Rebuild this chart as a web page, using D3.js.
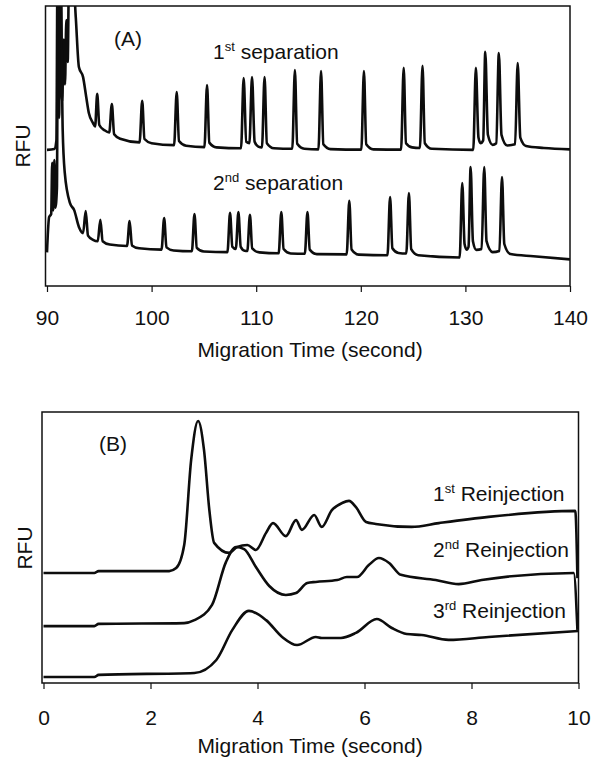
<!DOCTYPE html>
<html>
<head>
<meta charset="utf-8">
<script src="https://cdn.jsdelivr.net/npm/d3@7"></script>
<style>
  body { margin: 0; background: #fff; }
  text { font-family: "Liberation Sans", Arial, Helvetica, sans-serif; fill: #111; }
</style>
</head>
<body>
<div id="chart"></div>
<script>
// Marcas de los ejes
var ticksA = [90, 100, 110, 120, 130, 140];
var ticksB = [0, 2, 4, 6, 8, 10];

// (A) primera separacion: [tiempo (s), RFU]
var sepPrimera = [
  [90.0, 48.6], [90.7, 48.9], [90.9, 52], [91.0, 110], [91.15, 60], [91.3, 110], [91.45, 66],
  [91.6, 88], [91.72, 72], [91.85, 95], [91.98, 80], [92.1, 110], [92.5, 110], [92.75, 96],
  [93.05, 78.2], [93.45, 74.6], [93.75, 67.5], [94.0, 61.8], [94.4, 58.2], [94.6, 57.0],
  [94.8, 68.6], [95.0, 57.5], [95.5, 55.6], [95.95, 54.8],
  [96.2, 65.0], [96.42, 54.2], [97.0, 52.6], [98.85, 51.3],
  [99.1, 66.1], [99.32, 52.5], [100.0, 51.0], [102.15, 50.3],
  [102.4, 69.3], [102.62, 51.8], [103.3, 50.1], [105.05, 49.6],
  [105.3, 71.8], [105.52, 51.2], [106.2, 49.5], [108.55, 49.2],
  [108.8, 74.3], [109.05, 51.5], [109.35, 51.0],
  [109.6, 74.6], [109.85, 51.5], [110.2, 49.8], [110.55, 49.5],
  [110.8, 74.6], [111.02, 51.0], [111.7, 49.2], [113.45, 49.0],
  [113.7, 77.1], [113.92, 50.8], [114.6, 49.0], [115.95, 48.8],
  [116.2, 76.8], [116.42, 50.6], [117.1, 48.9], [120.05, 48.7],
  [120.3, 76.8], [120.52, 50.6], [121.2, 48.8], [123.85, 48.7],
  [124.1, 77.9], [124.32, 51.0], [124.9, 49.5], [125.65, 49.3],
  [125.9, 78.6], [126.12, 51.0], [126.8, 49.0], [130.75, 48.6],
  [131.0, 77.9], [131.25, 53.0], [131.45, 51.0], [131.7, 52.0],
  [131.9, 83.6], [132.15, 54.0], [132.6, 50.4], [132.95, 51.0],
  [133.2, 83.2], [133.45, 54.0], [134.0, 50.2], [134.75, 50.6],
  [135.0, 79.6], [135.25, 53.0], [135.8, 50.0], [137.5, 49.3], [140.0, 48.8]
];

// (A) segunda separacion
var sepSegunda = [
  [90.0, 12], [90.1, 20], [90.2, 24.6], [90.4, 25.7], [90.5, 44], [90.6, 27], [90.7, 45],
  [90.8, 28], [90.95, 35], [91.05, 110], [91.3, 110], [91.5, 55.7], [91.7, 40.4],
  [92.2, 29.6], [92.6, 27.1], [93.05, 21.1], [93.45, 18.9],
  [93.7, 26.8], [93.92, 18.0], [94.4, 16.5], [94.85, 16.0],
  [95.1, 23.6], [95.32, 16.0], [96.0, 14.8], [97.65, 14.3],
  [97.9, 23.2], [98.12, 14.5], [98.8, 13.5], [100.95, 13.0],
  [101.2, 24.3], [101.42, 13.8], [102.1, 12.7], [103.85, 12.4],
  [104.1, 25.7], [104.32, 13.6], [105.0, 12.3], [107.25, 12.1],
  [107.5, 26.1], [107.72, 14.0], [108.05, 13.2],
  [108.3, 26.4], [108.52, 14.0], [108.9, 12.6], [109.15, 12.5],
  [109.4, 25.4], [109.62, 13.4], [110.3, 12.0], [112.15, 11.7],
  [112.4, 26.4], [112.62, 13.2], [113.3, 11.6], [114.65, 11.5],
  [114.9, 26.4], [115.12, 13.0], [115.8, 11.4], [118.65, 11.3],
  [118.9, 30.4], [119.12, 13.0], [119.8, 11.2], [122.55, 11.0],
  [122.8, 31.8], [123.02, 13.5], [123.6, 11.8], [124.35, 11.6],
  [124.6, 33.2], [124.82, 13.2], [125.5, 11.0], [129.45, 10.2],
  [129.7, 36.8], [129.92, 15.0], [130.12, 13.0], [130.3, 14.0],
  [130.5, 42.5], [130.72, 16.0], [131.05, 12.9], [131.55, 13.2],
  [131.8, 42.5], [132.02, 16.0], [132.6, 12.1], [133.25, 12.5],
  [133.5, 38.9], [133.72, 15.0], [134.3, 11.4], [136.5, 10.6], [140.0, 9.5]
];

// (B) reinyecciones
var reiny1 = [
  [0, 40.6], [0.95, 40.6], [1.03, 41.3], [2.35, 41.3], [2.48, 42.4], [2.63, 50.9],
  [2.76, 82.3], [2.89, 96.7], [3.0, 86], [3.1, 63.8], [3.19, 51.7], [3.47, 48],
  [3.62, 50.2], [3.81, 50.9], [3.97, 49.1], [4.16, 55.4], [4.29, 59], [4.53, 54.2],
  [4.72, 60.1], [4.83, 56.5], [5.06, 62], [5.2, 57.6], [5.39, 63.8], [5.58, 66.4],
  [5.71, 67.2], [5.84, 64.9], [6.03, 59.4], [6.21, 58.7], [6.88, 57.6], [7.39, 59],
  [8.32, 61.3], [9.94, 63.5], [9.98, 38.7]
];
var reiny2 = [
  [0, 21], [0.95, 21], [1.03, 21.8], [2.63, 22.1], [2.82, 23.2], [3.15, 28.8],
  [3.41, 44.6], [3.6, 50.2], [3.75, 49.4], [3.97, 42.8], [4.22, 35.8], [4.53, 32.5],
  [4.72, 33.2], [4.93, 36.9], [5.09, 37.3], [5.49, 38], [5.67, 39.1], [5.86, 39.1],
  [6.08, 43.5], [6.27, 46.1], [6.46, 44.3], [6.68, 39.9], [7.33, 38], [7.76, 36.5],
  [8.19, 38], [9.91, 40.6], [9.98, 19.6]
];
var reiny3 = [
  [0, 2.2], [0.95, 2.2], [1.03, 3], [2.82, 3.7], [3.23, 8.5], [3.53, 19.6], [3.84, 26.6],
  [4.16, 23.2], [4.46, 17], [4.74, 14], [5.09, 17], [5.2, 16.6], [5.56, 16.6], [5.84, 18.5],
  [6.23, 23.6], [6.51, 20.3], [6.79, 18.1], [7.07, 17.7], [7.57, 15.9], [8.32, 17], [10, 19.2]
];

(function(){

  var fuente = 21;

  var svg = d3.select("#chart")
              .append("svg")
              .attr("width", 593)
              .attr("height", 763);

  //Texto con superindice (1st, 2nd ...)
  function etiqueta(g, x, y, num, sup, resto){
    var t = g.append("text")
             .attr("x", x)
             .attr("y", y)
             .attr("font-size", fuente);
    t.append("tspan").text(num);
    t.append("tspan").text(sup).attr("font-size", 13).attr("dy", -8);
    t.append("tspan").text(resto).attr("dy", 8);
  }

  function panel(cfg){
    var g = svg.append("g");

    var x = d3.scaleLinear().domain(cfg.dominio).range(cfg.rx);
    var y = d3.scaleLinear().domain([0, 100]).range(cfg.ry);

    g.append("clipPath")
     .attr("id", cfg.id)
     .append("rect")
     .attr("x", cfg.rx[0] - 2)
     .attr("y", cfg.ry[1])
     .attr("width", cfg.rx[1] - cfg.rx[0] + 2)
     .attr("height", cfg.ry[0] - cfg.ry[1]);

    var linea = d3.line()
                  .x(function(d){ return x(d[0]); })
                  .y(function(d){ return y(d[1]); })
                  .curve(d3.curveMonotoneX);

    g.append("g")
     .attr("clip-path", "url(#" + cfg.id + ")")
     .selectAll("path")
     .data(cfg.series)
     .enter()
     .append("path")
     .attr("d", linea)
     .attr("fill", "none")
     .attr("stroke", "#0d0d0d")
     .attr("stroke-width", 2.6)
     .attr("stroke-linejoin", "round");

    //Marco
    g.append("rect")
     .attr("x", cfg.rx[0] - 1.5)
     .attr("y", cfg.ry[1])
     .attr("width", cfg.rx[1] - cfg.rx[0] + 1.5)
     .attr("height", cfg.ry[0] - cfg.ry[1])
     .attr("fill", "none")
     .attr("stroke", "#111")
     .attr("stroke-width", 1.5);

    var eje = g.append("g")
               .attr("transform", "translate(0," + cfg.ry[0] + ")")
               .call(d3.axisBottom(x)
                       .tickValues(cfg.ticks)
                       .tickSize(6)
                       .tickPadding(cfg.pad));
    eje.select(".domain").remove();
    eje.selectAll("line").attr("stroke", "#111").attr("stroke-width", 1.2);
    eje.selectAll("text")
       .attr("font-size", fuente)
       .attr("font-family", "Liberation Sans, Arial, sans-serif")
       .attr("fill", "#111");

    g.append("text")
     .text("Migration Time (second)")
     .attr("x", 310)
     .attr("y", cfg.tituloY)
     .attr("text-anchor", "middle")
     .attr("font-size", fuente);

    g.append("text")
     .text("RFU")
     .attr("transform", "translate(" + cfg.rfu[0] + "," + cfg.rfu[1] + ") rotate(-90)")
     .attr("text-anchor", "middle")
     .attr("font-size", fuente);

    return g;
  }

  var gA = panel({
    id: "clipA", dominio: [90, 140], rx: [47, 570], ry: [286, 6],
    series: [sepPrimera, sepSegunda], ticks: ticksA, pad: 18,
    tituloY: 357, rfu: [30, 146]
  });
  gA.append("text").text("(A)").attr("x", 114).attr("y", 46).attr("font-size", fuente);
  etiqueta(gA, 213, 59, "1", "st", " separation");
  etiqueta(gA, 213, 190, "2", "nd", " separation");

  var gB = panel({
    id: "clipB", dominio: [0, 10], rx: [43.5, 578.5], ry: [683, 412],
    series: [reiny1, reiny2, reiny3], ticks: ticksB, pad: 21,
    tituloY: 753, rfu: [32, 548]
  });
  gB.append("text").text("(B)").attr("x", 99).attr("y", 451).attr("font-size", fuente);
  etiqueta(gB, 433, 501, "1", "st", " Reinjection");
  etiqueta(gB, 433, 557, "2", "nd", " Reinjection");
  etiqueta(gB, 433, 618, "3", "rd", " Reinjection");

})();
</script>
</body>
</html>
